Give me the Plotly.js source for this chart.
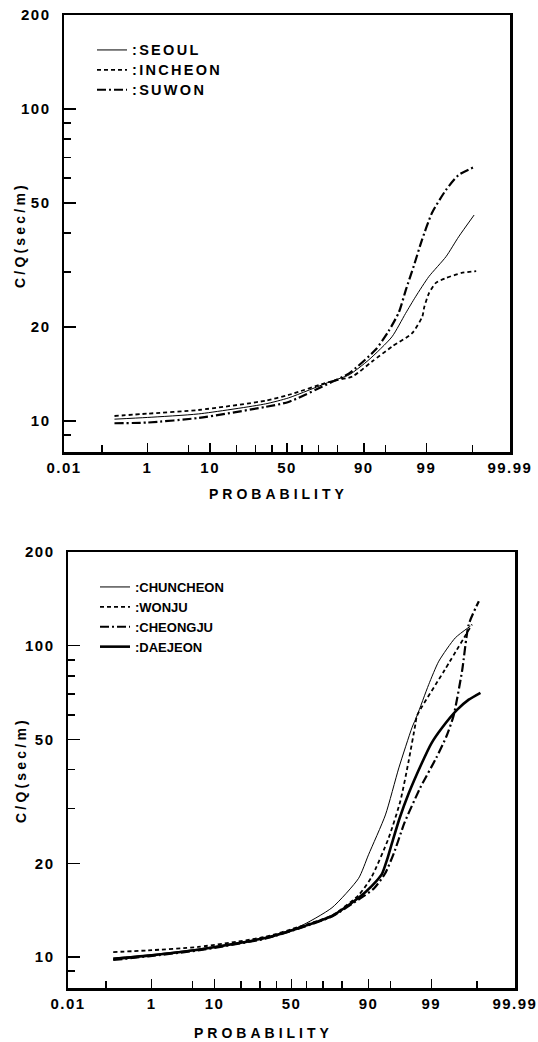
<!DOCTYPE html>
<html>
<head>
<meta charset="utf-8">
<script src="https://cdn.plot.ly/plotly-3.0.1.min.js"></script>
<style>
  html, body { margin: 0; padding: 0; background: #fff; }
  #chart { width: 538px; height: 1042px; }
</style>
</head>
<body>
<div id="chart"></div>
<script>
// ---------------- data (probability in %, C/Q in sec/m) ----------------
const probTickLabels = ["0.01", "1", "10", "50", "90", "99", "99.99"];
const probMajorTicks = [0.01, 1, 10, 50, 90, 99, 99.99];
const probMinorTicks = [0.1, 5, 20, 30, 40, 60, 70, 80, 95, 99.9];
const cqMajorTicks = [10, 20, 50, 100, 200];
const cqMinorTicks = [9, 30, 40, 60, 70, 80, 90];

// Upper panel
const seoulP   = [0.2, 1, 7, 36, 51, 77, 85, 91.4, 96, 97.6, 98.4, 99.1, 99.6, 99.79, 99.91];
const seoulV   = [10.13, 10.26, 10.53, 11.34, 11.85, 13.4, 14.05, 15.7, 18.6, 22.1, 25.0, 29.0, 33.6, 38.9, 45.7];
const incheonP = [0.2, 1, 7, 36, 51, 77, 86.2, 92.2, 96, 98.16, 98.8, 98.9, 99.1, 99.35, 99.6, 99.82, 99.92];
const incheonV = [10.37, 10.55, 10.84, 11.61, 12.11, 13.4, 13.87, 15.5, 17.3, 19.1, 21.6, 23.2, 25.6, 27.7, 28.7, 29.8, 30.2];
const suwonP   = [0.2, 1, 7, 36, 51, 77, 85, 93, 95.5, 96.9, 97.63, 98.29, 98.78, 99.22, 99.6, 99.79, 99.91];
const suwonV   = [9.83, 9.88, 10.22, 11.09, 11.5, 13.3, 14.2, 16.9, 19.4, 22.3, 26.3, 31.5, 38.0, 46.4, 55.0, 61.4, 65.1];

// Lower panel
const chuncheonP = [0.15, 0.86, 6, 33, 55, 75, 86.8, 90, 94.1, 96.3, 97.75, 98.16, 98.88, 99.29, 99.68, 99.855];
const chuncheonV = [9.93, 10.15, 10.6, 11.55, 12.5, 14.4, 17.9, 21.3, 28.6, 40.5, 54.5, 59.5, 75.0, 89.2, 106, 115.6];
const wonjuP     = [0.15, 0.86, 6, 33, 55, 75, 86.8, 90.9, 94.7, 96.5, 97.44, 98.04, 98.16, 99.46, 99.867];
const wonjuV     = [10.37, 10.5, 10.77, 11.6, 12.5, 13.6, 15.8, 18.1, 24.1, 31.7, 42.6, 55.9, 59.5, 83.5, 117];
const cheongjuP  = [0.15, 0.86, 6, 33, 55, 75, 86.8, 91.5, 94.0, 95.6, 97.0, 98.4, 99.2, 99.5, 99.65, 99.774, 99.841, 99.909];
const cheongjuV  = [9.78, 10.05, 10.5, 11.45, 12.35, 13.5, 15.3, 16.6, 18.5, 21.6, 27.0, 35.0, 43.6, 51.0, 59.5, 83.0, 117, 139];
const daejeonP   = [0.15, 0.86, 6, 33, 55, 75, 86.8, 90.9, 93.4, 94.4, 95.3, 96.4, 97.44, 98.5, 99.0, 99.39, 99.71, 99.841, 99.917];
const daejeonV   = [9.85, 10.1, 10.55, 11.5, 12.4, 13.55, 15.5, 16.9, 18.5, 20.5, 23.3, 27.9, 33.5, 42.0, 48.5, 54.5, 62.3, 67.1, 70.6];

// ---------------- normal-probability scale ----------------
function normInv(p) {
  const a=[-3.969683028665376e+01,2.209460984245205e+02,-2.759285104469687e+02,1.383577518672690e+02,-3.066479806614716e+01,2.506628277459239e+00];
  const b=[-5.447609879822406e+01,1.615858368580409e+02,-1.556989798598866e+02,6.680131188771972e+01,-1.328068155288572e+01];
  const c=[-7.784894002430293e-03,-3.223964580411365e-01,-2.400758277161838e+00,-2.549732539343734e+00,4.374664141464968e+00,2.938163982698783e+00];
  const d=[7.784695709041462e-03,3.224671290700398e-01,2.445134137142996e+00,3.754408661907416e+00];
  const pl=0.02425, ph=1-pl; let q, r;
  if (p < pl) { q=Math.sqrt(-2*Math.log(p)); return (((((c[0]*q+c[1])*q+c[2])*q+c[3])*q+c[4])*q+c[5])/((((d[0]*q+d[1])*q+d[2])*q+d[3])*q+1); }
  if (p <= ph) { q=p-0.5; r=q*q; return (((((a[0]*r+a[1])*r+a[2])*r+a[3])*r+a[4])*r+a[5])*q/(((((b[0]*r+b[1])*r+b[2])*r+b[3])*r+b[4])*r+1); }
  q=Math.sqrt(-2*Math.log(1-p)); return -(((((c[0]*q+c[1])*q+c[2])*q+c[3])*q+c[4])*q+c[5])/((((d[0]*q+d[1])*q+d[2])*q+d[3])*q+1);
}
const toZ = arr => arr.map(p => normInv(p / 100));

// ---------------- geometry ----------------
const W = 538, H = 1042;
const px = v => v / W;
const py = v => 1 - v / H;
const FONT = 'Liberation Sans, Arial, Helvetica, sans-serif';
const zMin = normInv(0.0001) - 0.001, zMax = normInv(0.9999) + 0.001;

function line(color, width, dash) { return {color: color, width: width, dash: dash, shape: 'spline', smoothing: 0.6}; }
function tr(name, P, V, ln, xa, ya, lg) {
  return {type: 'scatter', mode: 'lines', name: name, x: toZ(P), y: V, line: ln,
          xaxis: xa, yaxis: ya, legend: lg, hoverinfo: 'skip'};
}

const traces = [
  tr(':SEOUL',     seoulP,     seoulV,     line('#000', 1,   'solid'),            'x',  'y',  'legend'),
  tr(':INCHEON',   incheonP,   incheonV,   line('#000', 1.8, '4px,3px'),          'x',  'y',  'legend'),
  tr(':SUWON',     suwonP,     suwonV,     line('#000', 2.2, '9px,3px,2px,3px'),  'x',  'y',  'legend'),
  tr(':CHUNCHEON', chuncheonP, chuncheonV, line('#000', 1,   'solid'),            'x2', 'y2', 'legend2'),
  tr(':WONJU',     wonjuP,     wonjuV,     line('#000', 1.8, '4px,3px'),          'x2', 'y2', 'legend2'),
  tr(':CHEONGJU',  cheongjuP,  cheongjuV,  line('#000', 2.2, '9px,3px,2px,3px'),  'x2', 'y2', 'legend2'),
  tr(':DAEJEON',   daejeonP,   daejeonV,   line('#000', 2.6, 'solid'),            'x2', 'y2', 'legend2')
];

const tickFont = {family: FONT, size: 15, color: '#000', weight: 'bold'};

function xAxis(domain, anchor) {
  return {
    domain: domain, anchor: anchor, range: [zMin, zMax], type: 'linear',
    showgrid: false, zeroline: false, showline: true, linecolor: '#000', linewidth: 2.5, mirror: true,
    tickmode: 'array', tickvals: toZ(probMajorTicks), ticktext: probTickLabels,
    ticks: 'inside', ticklen: 9, tickwidth: 1.5, tickcolor: '#000',
    minor: {tickmode: 'array', tickvals: toZ(probMinorTicks), ticks: 'inside', ticklen: 7, tickwidth: 1.5, tickcolor: '#000', showgrid: false},
    tickfont: tickFont, ticklabeloverflow: 'allow',
    fixedrange: true
  };
}
function yAxis(domain, anchor) {
  return {
    domain: domain, anchor: anchor, type: 'log', range: [Math.log10(7.95), Math.log10(200)],
    showgrid: false, zeroline: false, showline: true, linecolor: '#000', linewidth: 2.5, mirror: true,
    tickmode: 'array', tickvals: cqMajorTicks, ticktext: cqMajorTicks.map(String),
    ticks: 'inside', ticklen: 12, tickwidth: 1.5, tickcolor: '#000',
    minor: {tickmode: 'array', tickvals: cqMinorTicks, ticks: 'inside', ticklen: 7, tickwidth: 1.5, tickcolor: '#000', showgrid: false},
    tickfont: tickFont, ticklabelstandoff: 8, ticklabeloverflow: 'allow',
    fixedrange: true
  };
}

const legendFont = {family: FONT, size: 13, color: '#000', weight: 'bold'};
const titleFont = {family: FONT, size: 14, color: '#000', weight: 'bold'};

const layout = {
  width: W, height: H,
  margin: {l: 0, r: 0, t: 0, b: 0},
  paper_bgcolor: '#fff', plot_bgcolor: 'rgba(0,0,0,0)',
  showlegend: true,
  xaxis:  xAxis([px(64), px(510)], 'y'),
  yaxis:  yAxis([py(452), py(15)], 'x'),
  xaxis2: xAxis([px(68), px(515)], 'y2'),
  yaxis2: yAxis([py(988), py(552)], 'x2'),
  legend:  {x: px(92), y: py(35), xanchor: 'left', yanchor: 'top', bgcolor: 'rgba(0,0,0,0)', font: legendFont, tracegroupgap: 0},
  legend2: {x: px(95), y: py(572), xanchor: 'left', yanchor: 'top', bgcolor: 'rgba(0,0,0,0)', font: legendFont, tracegroupgap: 0},
  annotations: [
    {text: 'PROBABILITY', xref: 'paper', yref: 'paper', x: px(279), y: py(494), showarrow: false, font: titleFont, xanchor: 'center', yanchor: 'middle'},
    {text: 'PROBABILITY', xref: 'paper', yref: 'paper', x: px(264), y: py(1033), showarrow: false, font: titleFont, xanchor: 'center', yanchor: 'middle'},
    {text: 'C/Q(sec/m)', xref: 'paper', yref: 'paper', x: px(20), y: py(235), showarrow: false, font: titleFont, textangle: -90, xanchor: 'center', yanchor: 'middle'},
    {text: 'C/Q(sec/m)', xref: 'paper', yref: 'paper', x: px(21), y: py(770), showarrow: false, font: titleFont, textangle: -90, xanchor: 'center', yanchor: 'middle'}
  ]
};

Plotly.newPlot('chart', traces, layout, {displayModeBar: false, staticPlot: true}).then(function (gd) {
  gd.querySelectorAll('.annotation-text').forEach(function (t) {
    t.style.letterSpacing = (t.textContent.indexOf('PROB') === 0) ? '4px' : '3.2px';
  });
  gd.querySelectorAll('.legend .scrollbox').forEach(function (g) { g.removeAttribute('clip-path'); });
  gd.querySelectorAll('.legendtext').forEach(function (t) {
    t.style.fontSize = '14.5px';
    t.style.letterSpacing = '2.3px';
  });
  gd.querySelectorAll('g.xtick text, g.x2tick text, g.ytick text, g.y2tick text').forEach(function (t) {
    t.style.letterSpacing = '1.5px';
  });
});
</script>
</body>
</html>
